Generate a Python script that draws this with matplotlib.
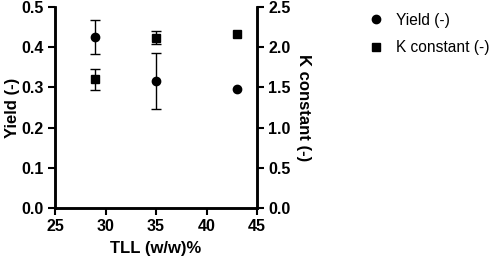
import matplotlib
matplotlib.use("Agg")
import matplotlib.pyplot as plt
from matplotlib.lines import Line2D

plt.rcParams["font.family"] = ["Liberation Sans", "DejaVu Sans"]

# data (err 0 = no error bar shown)
tll = [29, 35, 43]
yield_val = [0.426, 0.316, 0.297]
yield_err = [0.042, 0.069, 0.0]
k_val = [1.60, 2.12, 2.16]
k_err = [0.135, 0.08, 0.0]

fig = plt.figure(figsize=(4.98, 2.63), dpi=100)
ax = fig.add_axes([55 / 498, 1 - 208 / 263, 202 / 498, 201 / 263])
ax2 = ax.twinx()


def draw(a, xs, ys, errs, marker, ms):
    a.plot(xs, ys, marker, color="black", ms=ms, clip_on=False, zorder=3)
    idx = [i for i, e in enumerate(errs) if e > 0]
    a.errorbar([xs[i] for i in idx], [ys[i] for i in idx],
               yerr=[errs[i] for i in idx], fmt="none", ecolor="black",
               capsize=3.5, elinewidth=1, capthick=1, clip_on=False)


draw(ax, tll, yield_val, yield_err, "o", 6)
draw(ax2, tll, k_val, k_err, "s", 5.8)

ax.set_xlim(25, 45)
ax.set_ylim(0, 0.5)
ax2.set_ylim(0, 2.5)
ax.set_xticks([25, 30, 35, 40, 45])
ax.set_yticks([0.0, 0.1, 0.2, 0.3, 0.4, 0.5])
ax2.set_yticks([0.0, 0.5, 1.0, 1.5, 2.0, 2.5])
ax.yaxis.set_major_formatter(matplotlib.ticker.FormatStrFormatter("%.1f"))
ax2.yaxis.set_major_formatter(matplotlib.ticker.FormatStrFormatter("%.1f"))

for a in (ax, ax2):
    for s in a.spines.values():
        s.set_linewidth(1.8)
    a.spines["top"].set_visible(False)
    a.tick_params(width=1.5, length=5, labelsize=11.5, pad=3)
    for lbl in a.get_xticklabels() + a.get_yticklabels():
        lbl.set_fontweight("bold")

ax.set_xlabel("TLL (w/w)%", fontsize=12, fontweight="bold", labelpad=5)
ax.set_ylabel("Yield (-)", fontsize=12, fontweight="bold", labelpad=1)
ax2.set_ylabel("K constant (-)", fontsize=12, fontweight="bold",
               rotation=270, labelpad=15)

handles = [
    Line2D([], [], marker="o", ls="none", color="black", ms=6),
    Line2D([], [], marker="s", ls="none", color="black", ms=5.8),
]
fig.legend(handles, ["Yield (-)", "K constant (-)"], loc="upper left",
           bbox_to_anchor=(346 / 498, 1.005), frameon=False, fontsize=11.2,
           handletextpad=0.3, labelspacing=0.8)

fig.savefig("out.png", dpi=100)
